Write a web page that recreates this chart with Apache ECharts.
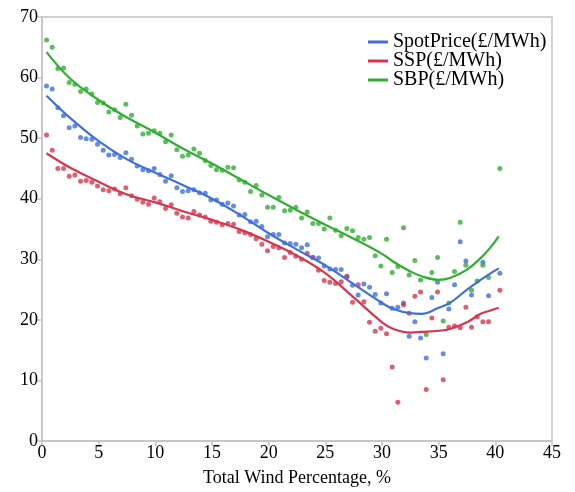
<!DOCTYPE html>
<html>
<head>
<meta charset="utf-8">
<script src="https://cdn.jsdelivr.net/npm/echarts@6/dist/echarts.min.js"></script>
<style>html,body{margin:0;padding:0;background:#fff}#c{width:575px;height:492px}</style>
</head>
<body>
<div id="c"></div>
<script>
var windPct = [0.4,0.9,1.4,1.9,2.4,2.9,3.4,3.9,4.4,4.9,5.4,5.9,6.4,6.9,7.4,7.9,8.4,8.9,9.4,9.9,
  10.4,10.9,11.4,11.9,12.4,12.9,13.4,13.9,14.4,14.9,15.4,15.9,16.4,16.9,17.4,17.9,18.4,18.9,19.4,19.9,
  20.4,20.9,21.4,21.9,22.4,22.9,23.4,23.9,24.4,24.9,25.4,25.9,26.4,26.9,27.4,27.9,28.4,28.9,29.4,29.9,
  30.4,30.9,31.4,31.9,32.4,32.9,33.4,33.9,34.4,34.9,35.4,35.9,36.4,36.9,37.4,37.9,38.4,38.9,39.4,40.4];
var spotPrice = [58.6,58.1,55.0,53.7,51.7,52.0,50.1,49.9,49.8,49.0,48.0,47.2,47.3,46.8,47.6,46.5,45.4,44.8,44.6,45.0,
  44.0,42.9,43.8,41.8,41.2,41.3,41.5,41.0,40.9,39.8,39.8,39.1,39.3,38.8,37.3,37.4,36.2,36.3,35.4,33.7,
  34.1,34.1,32.7,32.6,32.5,31.9,32.4,30.3,30.2,28.9,28.4,28.3,28.3,27.2,25.7,24.1,25.9,25.4,24.2,22.8,
  24.3,21.9,22.1,22.8,17.3,19.7,17.0,13.7,23.7,26.2,14.4,21.8,25.8,32.9,29.7,24.1,null,29.5,24.0,27.7];
var ssp = [50.5,48.0,45.0,45.0,43.7,43.9,42.9,43.0,42.7,42.1,41.5,41.3,41.6,40.8,41.8,40.5,39.9,39.4,39.1,40.1,
  39.5,38.4,39.0,37.6,37.0,36.8,37.9,37.3,37.0,36.3,36.1,35.7,35.9,35.8,34.6,34.4,34.1,33.4,32.5,31.4,
  32.1,31.9,30.3,31.1,30.5,30.0,31.0,30.3,28.2,26.5,26.2,26.0,26.3,27.1,22.9,25.8,23.0,19.6,18.1,18.6,
  17.7,12.2,6.4,22.5,21.1,23.9,24.6,8.5,20.3,24.6,10.1,18.8,19.0,18.7,22.1,18.8,20.5,19.7,19.7,24.9];
var sbp = [66.2,65.0,61.5,61.6,59.2,58.9,57.7,58.1,57.3,55.9,55.8,54.3,54.7,53.4,55.6,53.8,52.0,50.7,50.8,51.2,
  50.8,49.4,50.5,48.1,47.0,47.2,48.2,47.5,46.3,45.5,44.8,44.7,45.2,45.1,43.1,42.7,41.2,42.2,40.6,38.6,
  38.6,40.2,38.0,38.1,38.6,36.8,37.8,35.9,35.9,35.0,36.8,34.8,33.9,35.1,34.7,33.6,33.3,33.6,30.6,28.9,
  33.3,27.8,28.8,35.2,27.4,29.8,26.6,17.6,27.8,30.3,19.8,22.8,28.0,36.1,29.0,24.9,26.4,29.0,27.0,45.0];

// trend curves
var fitX = [0.4,2.5,5,7.5,10,12.5,15,17.5,20,22.5,25,27.5,30,31,32.5,33.5,35,36,37.5,38.7,39.5,40.3];
var spotFit = [57.0,53.3,49.5,46.5,44.3,42.2,40.0,37.3,34.3,31.6,29.0,25.9,22.8,21.8,21.1,21.0,22.0,22.8,25.0,26.6,27.6,28.5];
var sspFit = [47.5,45.1,42.8,40.7,39.4,37.9,36.5,34.9,32.9,30.6,27.7,23.7,19.6,18.5,17.9,18.0,18.2,18.5,19.6,21.0,21.5,22.0];
var sbpFit = [64.2,59.8,56.3,53.4,50.9,48.2,45.8,43.2,40.6,38.1,35.7,33.4,30.9,29.6,28.0,27.2,26.6,26.9,28.3,30.2,31.8,33.8];

var xTicks = [0,5,10,15,20,25,30,35,40,45];
var yTicks = [0,10,20,30,40,50,60,70];

var BLUE = '#3f6fd8', RED = '#d3374f', GREEN = '#2fae32';
function pairs(xs, ys){ var o=[]; for (var i=0;i<xs.length;i++){ if (ys[i]!==null) o.push([xs[i], ys[i]]); } return o; }

var font = 'Liberation Serif, Times New Roman, serif';
var chart = echarts.init(document.getElementById('c'));
chart.setOption({
  animation: false,
  grid: {left: 42, right: 23, top: 17, bottom: 45, show: true, borderColor: '#c4c4c4', borderWidth: 1.5},
  legend: {
    left: 363, top: 27, orient: 'vertical', itemWidth: 20, itemHeight: 3, itemGap: -1,
    icon: 'rect',
    textStyle: {fontFamily: font, fontSize: 20, color: '#000'},
    data: ['SpotPrice(£/MWh)', 'SSP(£/MWh)', 'SBP(£/MWh)']
  },
  xAxis: {
    type: 'value', min: xTicks[0], max: xTicks[xTicks.length-1], interval: 5,
    name: 'Total Wind Percentage, %', nameLocation: 'middle', nameGap: 28,
    nameTextStyle: {fontFamily: font, fontSize: 18, color: '#000'},
    axisLine: {lineStyle: {color: '#c4c4c4', width: 1.5}},
    axisTick: {show: true, length: 5, lineStyle: {color: '#c4c4c4', width: 1.5}},
    axisLabel: {fontFamily: font, fontSize: 18, color: '#000', margin: 3},
    splitLine: {show: false}
  },
  yAxis: {
    type: 'value', min: yTicks[0], max: yTicks[yTicks.length-1], interval: 10,
    axisLine: {show: true, lineStyle: {color: '#c4c4c4', width: 1.5}},
    axisTick: {show: true, length: 5, lineStyle: {color: '#c4c4c4', width: 1.5}},
    axisLabel: {fontFamily: font, fontSize: 18, color: '#000', margin: 4},
    splitLine: {show: false}
  },
  series: [
    {name: 'spot pts', type: 'scatter', data: pairs(windPct, spotPrice), symbolSize: 5, itemStyle: {color: BLUE}},
    {name: 'ssp pts', type: 'scatter', data: pairs(windPct, ssp), symbolSize: 5, itemStyle: {color: RED}},
    {name: 'sbp pts', type: 'scatter', data: pairs(windPct, sbp), symbolSize: 5, itemStyle: {color: GREEN}},
    {name: 'SpotPrice(£/MWh)', type: 'line', data: pairs(fitX, spotFit), smooth: 0.4, symbol: 'none', lineStyle: {color: BLUE, width: 2.2}, itemStyle: {color: BLUE}},
    {name: 'SSP(£/MWh)', type: 'line', data: pairs(fitX, sspFit), smooth: 0.4, symbol: 'none', lineStyle: {color: RED, width: 2.2}, itemStyle: {color: RED}},
    {name: 'SBP(£/MWh)', type: 'line', data: pairs(fitX, sbpFit), smooth: 0.4, symbol: 'none', lineStyle: {color: GREEN, width: 2.2}, itemStyle: {color: GREEN}}
  ]
});
</script>
</body>
</html>
